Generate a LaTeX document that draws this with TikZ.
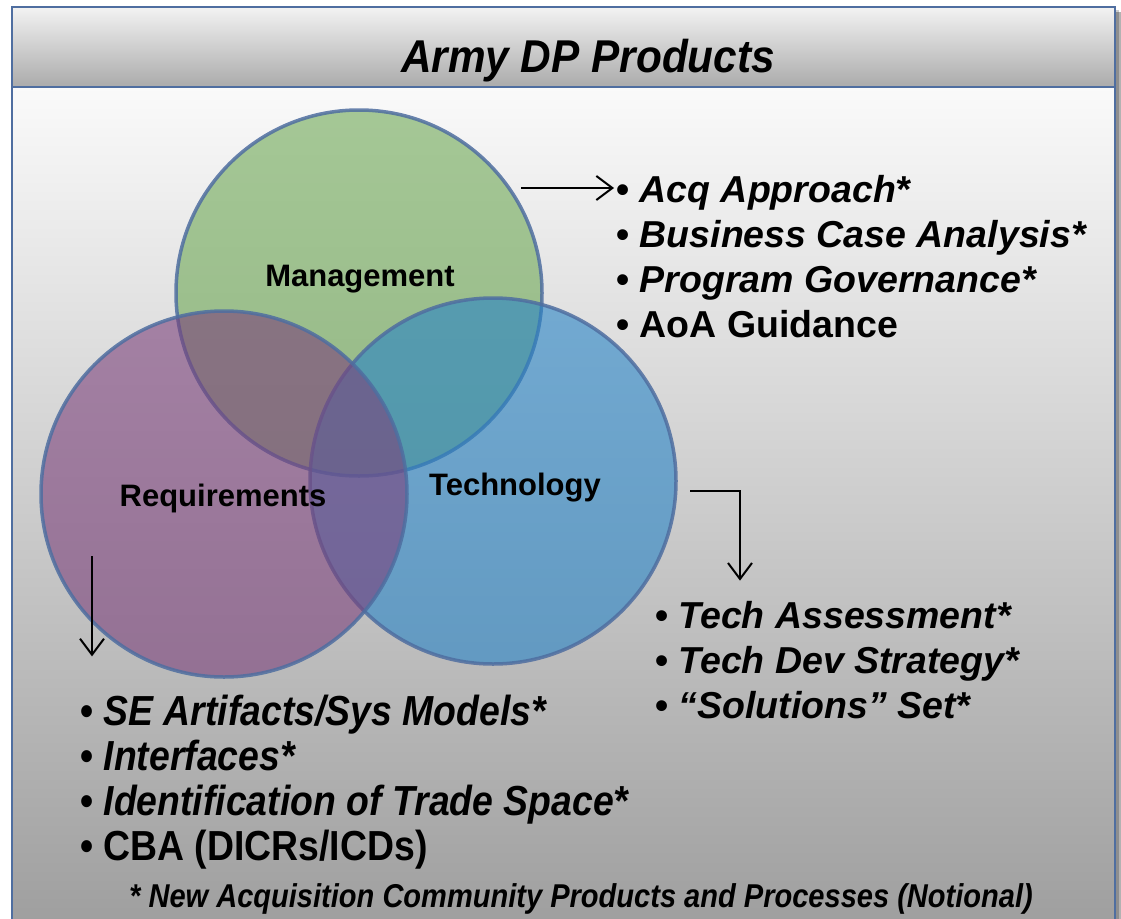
\documentclass[tikz,border=0pt]{standalone}
\usepackage{fontspec}
\setmainfont{Liberation Sans}
\usepackage{tikz}
\usetikzlibrary{arrows.meta}
\definecolor{mgmtgreen}{RGB}{110,168,85}
\definecolor{reqpurple}{RGB}{123,65,123}
\definecolor{techblue}{RGB}{40,132,198}
\definecolor{vennedge}{RGB}{79,110,160}
\definecolor{frameblue}{RGB}{79,110,160}

\begin{document}
\begin{tikzpicture}[x=1pt,y=-1pt]
\tikzstyle{every node}+=[inner sep=0pt]
\tikzstyle{venn}=[draw=vennedge,line width=3.5pt,fill opacity=0.6,draw opacity=0.85]
\tikzstyle{lbl}=[anchor=base,font=\fontsize{31}{31}\selectfont\bfseries]
\tikzstyle{item}=[anchor=base west,font=\fontsize{37.5}{37.5}\selectfont\bfseries]
\tikzstyle{ritem}=[anchor=base west,font=\fontsize{42}{42}\selectfont\bfseries]
\tikzstyle{arr}=[line width=2pt,-{Straight Barb[length=16pt,width=24pt]}]
\useasboundingbox (0,0) rectangle (1121,918);
\fill [black,opacity=0.3] (17,12) rectangle (1121,935);
\fill [black,opacity=0.2] (15,10) rectangle (1119,935);
\shade [shading angle=-45,top color=black!2,bottom color=black!38] (12,87) rectangle (1115,930);
\shade [shading angle=-30,top color=black!5,bottom color=black!33] (12,7) rectangle (1115,87);
\draw [frameblue,line width=1.2pt] (12,7) rectangle (1115,930);
\draw [frameblue,line width=1.2pt] (12,87) -- (1115,87);
\node [anchor=base,font=\fontsize{46}{46}\selectfont\bfseries\itshape] (title) at (588,72) {\scalebox{0.92}[1]{Army DP Products}};
\draw [venn,fill=mgmtgreen] (359,293) circle (183);
\draw [venn,fill=techblue] (493,481) circle (183);
\draw [venn,fill=reqpurple] (224,494) circle (183);
\node [lbl] (mgmt) at (360,286) {Management};
\node [lbl] (req) at (223,506) {Requirements};
\node [lbl] (tech) at (515,495) {Technology};
\node [item] (acq) at (616,202) {\textbullet\ \textit{Acq Approach*}};
\node [item] (bca) at (616,247) {\textbullet\ \textit{Business Case Analysis*}};
\node [item] (gov) at (616,292) {\textbullet\ \textit{Program Governance*}};
\node [item] (aoa) at (616,337) {\textbullet\ AoA Guidance};
\node [item] (ta) at (655,628) {\textbullet\ \textit{Tech Assessment*}};
\node [item] (tds) at (655,673) {\textbullet\ \textit{Tech Dev Strategy*}};
\node [item] (sol) at (655,718) {\textbullet\ \textit{``Solutions'' Set*}};
\node [ritem] (se) at (80,725) {\scalebox{0.89}[1]{\textbullet\ \textit{SE Artifacts/Sys Models*}}};
\node [ritem] (intf) at (80,770) {\scalebox{0.89}[1]{\textbullet\ \textit{Interfaces*}}};
\node [ritem] (trade) at (80,815) {\scalebox{0.89}[1]{\textbullet\ \textit{Identification of Trade Space*}}};
\node [ritem] (cba) at (80,860) {\scalebox{0.89}[1]{\textbullet\ CBA (DICRs/ICDs)}};
\node [anchor=base,font=\fontsize{33}{33}\selectfont\bfseries\itshape] (note) at (581,907) {\scalebox{0.88}[1]{* New Acquisition Community Products and Processes (Notional)}};
\coordinate (mgmtOut) at (521,188);
\coordinate (techOut) at (690,491);
\coordinate (reqOut) at (92,556);
\draw [arr,shorten >=2pt] (mgmtOut) -- (mgmtOut -| acq.west);
\draw [arr,shorten >=20pt] (techOut) -| ([xshift=85pt]ta.north west);
\draw [arr,shorten >=38pt] (reqOut) -- (reqOut |- se.north);
\end{tikzpicture}
\end{document}
